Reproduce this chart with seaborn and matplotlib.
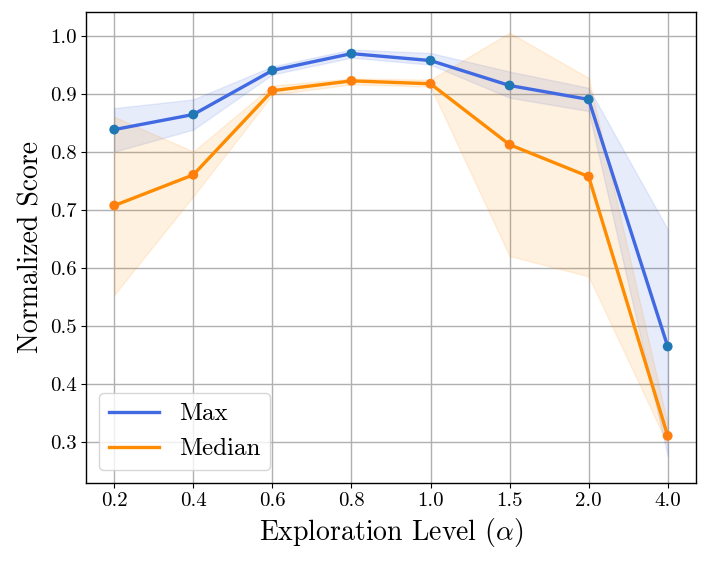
import numpy as np
import pandas as pd
import matplotlib
matplotlib.use("Agg")
import matplotlib.pyplot as plt
import seaborn as sns

alphas = ["0.2", "0.4", "0.6", "0.8", "1.0", "1.5", "2.0", "4.0"]
max_vals = [0.838, 0.864, 0.940, 0.969, 0.957, 0.914, 0.890, 0.464]
max_low = [0.800, 0.838, 0.933, 0.962, 0.950, 0.893, 0.870, 0.275]
max_high = [0.875, 0.890, 0.947, 0.976, 0.970, 0.938, 0.910, 0.666]
med_vals = [0.707, 0.760, 0.905, 0.922, 0.917, 0.812, 0.757, 0.310]
med_low = [0.553, 0.723, 0.898, 0.916, 0.912, 0.620, 0.585, 0.295]
med_high = [0.860, 0.800, 0.914, 0.926, 0.924, 1.005, 0.927, 0.330]

plt.rcParams["font.family"] = ["cmr10", "DejaVu Serif"]
plt.rcParams["mathtext.fontset"] = "cm"
plt.rcParams["axes.formatter.use_mathtext"] = True
plt.rcParams["axes.unicode_minus"] = False

idx = np.arange(len(alphas))
df = pd.DataFrame({"idx": idx, "Max": max_vals, "Median": med_vals})

fig = plt.figure(figsize=(7.07, 5.64), dpi=100)
ax = fig.add_axes([0.122, 0.144, 0.862, 0.835])

ax.grid(True, color="#b0b0b0", linewidth=1.0, zorder=0)
ax.set_axisbelow(True)

ax.fill_between(idx, max_low, max_high, color="royalblue", alpha=0.12, zorder=1)
ax.fill_between(idx, med_low, med_high, color="darkorange", alpha=0.12, zorder=1)

sns.lineplot(data=df, x="idx", y="Max", ax=ax, color="royalblue", linewidth=2.4,
             label="Max", zorder=3)
sns.lineplot(data=df, x="idx", y="Median", ax=ax, color="darkorange", linewidth=2.4,
             label="Median", zorder=3)
sns.scatterplot(data=df, x="idx", y="Max", ax=ax, color="#1f77b4", s=50,
                edgecolor="none", zorder=4)
sns.scatterplot(data=df, x="idx", y="Median", ax=ax, color="#ff7f0e", s=50,
                edgecolor="none", zorder=4)

ax.set_xticks(idx)
ax.set_xticklabels(alphas)
ax.set_xlim(-0.354, 7.354)
ax.set_ylim(0.229, 1.041)
ax.set_yticks([0.3, 0.4, 0.5, 0.6, 0.7, 0.8, 0.9, 1.0])
ax.set_yticklabels(["0.3", "0.4", "0.5", "0.6", "0.7", "0.8", "0.9", "1.0"])
ax.tick_params(labelsize=15)
ax.set_xlabel(r"Exploration Level ($\alpha$)", fontsize=20)
ax.set_ylabel("Normalized Score", fontsize=20)

for s in ax.spines.values():
    s.set_color("black")
    s.set_linewidth(1.0)

ax.legend(loc="lower left", fontsize=18, handlelength=2.0)

fig.savefig("out.png", dpi=100)
